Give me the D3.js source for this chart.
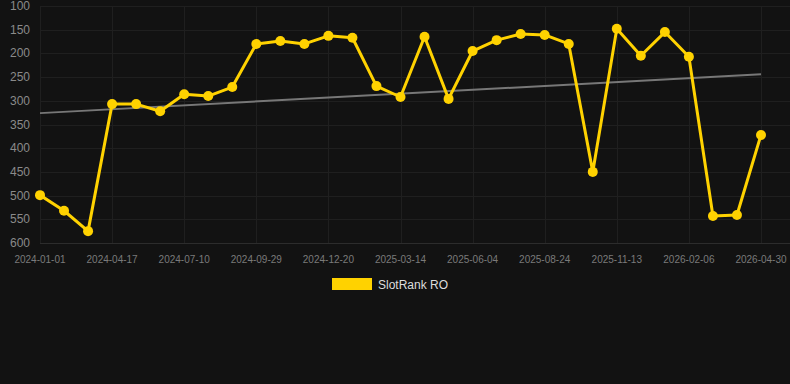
<!DOCTYPE html>
<html>
<head>
<meta charset="utf-8">
<script src="https://cdn.jsdelivr.net/npm/d3@7"></script>
<style>
  body { margin: 0; background: #121212; }
  svg { display: block; font-family: "Liberation Sans", Arial, sans-serif; }
</style>
</head>
<body>
<script>
// dates (one per point, evenly spaced on the axis)
var dates = ['2024-01-01','2024-02-05','2024-03-12','2024-04-17','2024-05-15','2024-06-12',
  '2024-07-10','2024-08-06','2024-09-02','2024-09-29','2024-10-26','2024-11-23',
  '2024-12-20','2025-01-17','2025-02-14','2025-03-14','2025-04-10','2025-05-07',
  '2025-06-04','2025-07-01','2025-07-28','2025-08-24','2025-09-20','2025-10-17',
  '2025-11-13','2025-12-11','2026-01-09','2026-02-06','2026-03-06','2026-04-02','2026-04-30'];
var ranks = [499, 532, 575, 307, 307, 322, 286, 290, 271, 180, 174, 180,
  163, 167, 269, 292, 165, 296, 195, 172, 159, 161, 180, 450,
  148, 205, 155, 207, 543, 541, 372];
var trend = [326, 244];   // start / end of trend line
var yTicks = [100, 150, 200, 250, 300, 350, 400, 450, 500, 550, 600];
var xTickLabels = ['2024-01-01','2024-04-17','2024-07-10','2024-09-29','2024-12-20',
  '2025-03-14','2025-06-04','2025-08-24','2025-11-13','2026-02-06','2026-04-30'];
var seriesName = 'SlotRank RO';

var W = 790, H = 384;
var plotL = 40, plotR = 761, plotT = 6, plotB = 243;

var svg = d3.select('body').append('svg').attr('width', W).attr('height', H);

var x = d3.scalePoint().domain(dates).range([plotL, plotR]);
var y = d3.scaleLinear().domain([100, 600]).range([plotT, plotB]);

// horizontal grid
svg.selectAll('.hgrid').data(yTicks).enter().append('line')
  .attr('x1', plotL).attr('x2', W)
  .attr('y1', function(d){ return Math.round(y(d)) + 0.5; })
  .attr('y2', function(d){ return Math.round(y(d)) + 0.5; })
  .attr('stroke', function(d){ return d == 600 ? '#2c2c2c' : '#1f1f1f'; })
  .attr('stroke-width', 1);

// vertical grid
svg.selectAll('.vgrid').data(xTickLabels).enter().append('line')
  .attr('x1', function(d){ return Math.round(x(d)) + 0.5; })
  .attr('x2', function(d){ return Math.round(x(d)) + 0.5; })
  .attr('y1', plotT).attr('y2', plotB)
  .attr('stroke', '#1f1f1f');

// y labels
svg.selectAll('.ylab').data(yTicks).enter().append('text')
  .attr('x', 30).attr('y', function(d){ return y(d) + 4; })
  .attr('text-anchor', 'end')
  .attr('font-size', 12)
  .attr('fill', '#8a8a8a')
  .text(function(d){ return d; });

// x labels
svg.selectAll('.xlab').data(xTickLabels).enter().append('text')
  .attr('x', function(d){ return x(d); }).attr('y', 263)
  .attr('text-anchor', 'middle')
  .attr('font-size', 10)
  .attr('fill', '#7a7a7a')
  .text(function(d){ return d; });

// trend line
svg.append('line')
  .attr('x1', x(dates[0])).attr('y1', y(trend[0]))
  .attr('x2', x(dates[dates.length - 1])).attr('y2', y(trend[1]))
  .attr('stroke', '#777').attr('stroke-width', 2);

// series
var line = d3.line()
  .x(function(d, i){ return x(dates[i]); })
  .y(function(d){ return y(d); });

svg.append('path').datum(ranks)
  .attr('d', line)
  .attr('fill', 'none')
  .attr('stroke', '#ffd200')
  .attr('stroke-width', 3)
  .attr('stroke-linejoin', 'round');

svg.selectAll('.dot').data(ranks).enter().append('circle')
  .attr('cx', function(d, i){ return x(dates[i]); })
  .attr('cy', function(d){ return y(d); })
  .attr('r', 5)
  .attr('fill', '#ffd200');

// legend
svg.append('rect').attr('x', 332).attr('y', 278).attr('width', 40).attr('height', 12).attr('fill', '#ffd200');
svg.append('text').attr('x', 378).attr('y', 289)
  .attr('font-size', 12).attr('fill', '#dddddd')
  .text(seriesName);
</script>
</body>
</html>
